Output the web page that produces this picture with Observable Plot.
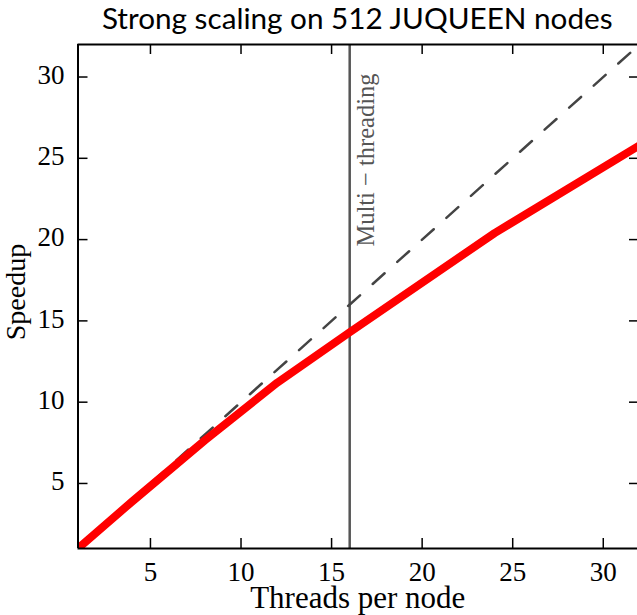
<!DOCTYPE html>
<html><head><meta charset="utf-8">
<script src="https://cdn.jsdelivr.net/npm/d3@7"></script>
<script src="https://cdn.jsdelivr.net/npm/@observablehq/plot@0.6"></script>
<style>
body{margin:0;background:#fff;}
#title{height:36px;line-height:36px;font-family:Lato,sans-serif;font-size:29.7px;text-align:center;padding-left:77.5px;width:559.5px;white-space:nowrap;color:#000}
</style></head><body>
<div id="title">Strong scaling on 512 JUQUEEN nodes</div>
<div id="chart"></div>
<script>
// measured data
const threads = [1, 2, 4, 8, 12, 16, 24, 32];
const speedup = [1, 1.97, 3.9, 7.65, 11.2, 14.3, 20.4, 25.8];
// ideal scaling line
const idealThreads = [1, 32];
const idealSpeedup = [1, 32];
// annotations
const multiThreadAt = [16];
const multiLabel = "Multi \u2212 threading";
// ticks
const xTicks = [5, 10, 15, 20, 25, 30];
const yTicks = [5, 10, 15, 20, 25, 30];
const xDomain = [1, 32];
const yDomain = [1, 32];
const xLabel = "Threads per node";
const yLabel = "Speedup";

const measured = threads.map((t, i) => ({t, s: speedup[i]}));
const ideal = idealThreads.map((t, i) => ({t, s: idealSpeedup[i]}));
const serif = "'Liberation Serif', 'Times New Roman', serif";

const chart = Plot.plot({
  width: 637,
  height: 579,
  marginLeft: 77.5,
  marginRight: 0,
  marginTop: 8,
  marginBottom: 67,
  x: {domain: xDomain, range: [77.5, 639], axis: null},
  y: {domain: yDomain, range: [512, 8], axis: null},
  marks: [
    Plot.ruleX(multiThreadAt, {x: d => d, stroke: "#555", strokeWidth: 2.5}),
    Plot.line(ideal, {x: "t", y: "s", stroke: "#444", strokeWidth: 2.5, strokeDasharray: "16,17", clip: true}),
    Plot.line(measured, {x: "t", y: "s", stroke: "#ff0000", strokeWidth: 8, clip: true}),
    Plot.text(multiThreadAt, {x: d => d, frameAnchor: "top", text: () => multiLabel, rotate: -90, textAnchor: "end", lineAnchor: "middle", dx: 16.6, dy: 29, fill: "#555", fontSize: 24.5, fontFamily: serif}),
    // spines
    Plot.ruleY(yDomain, {y: d => d, stroke: "black", strokeWidth: 2}),
    Plot.ruleX(xDomain, {x: d => d, stroke: "black", strokeWidth: 2}),
    // inward ticks
    Plot.ruleX(xTicks, {x: d => d, y1: () => yDomain[0], y2: () => yDomain[0], insetTop: -10, stroke: "black", strokeWidth: 1.5}),
    Plot.ruleX(xTicks, {x: d => d, y1: () => yDomain[1], y2: () => yDomain[1], insetBottom: -10, stroke: "black", strokeWidth: 1.5}),
    Plot.ruleY(yTicks, {y: d => d, x1: () => xDomain[0], x2: () => xDomain[0], insetRight: -10, stroke: "black", strokeWidth: 1.5}),
    Plot.ruleY(yTicks, {y: d => d, x1: () => xDomain[1], x2: () => xDomain[1], insetLeft: -10, stroke: "black", strokeWidth: 1.5}),
    // tick labels
    Plot.text(xTicks, {x: d => d, text: d => String(d), frameAnchor: "bottom", lineAnchor: "middle", textAnchor: "middle", dy: 23.5, fontSize: 27, fontFamily: serif, fill: "black"}),
    Plot.text(yTicks, {y: d => d, text: d => String(d), frameAnchor: "left", textAnchor: "end", lineAnchor: "middle", dx: -13.5, dy: -2, fontSize: 27, fontFamily: serif, fill: "black"}),
    // axis labels
    Plot.text([xLabel], {text: d => d, frameAnchor: "bottom", lineAnchor: "middle", textAnchor: "middle", dy: 50, fontSize: 31, fontFamily: serif, fill: "black"}),
    Plot.text([yLabel], {text: d => d, frameAnchor: "left", rotate: -90, textAnchor: "middle", lineAnchor: "middle", dx: -61.5, dy: -4.5, fontSize: 28, fontFamily: serif, fill: "black"})
  ]
});
document.getElementById("chart").appendChild(chart);
</script>
</body></html>
